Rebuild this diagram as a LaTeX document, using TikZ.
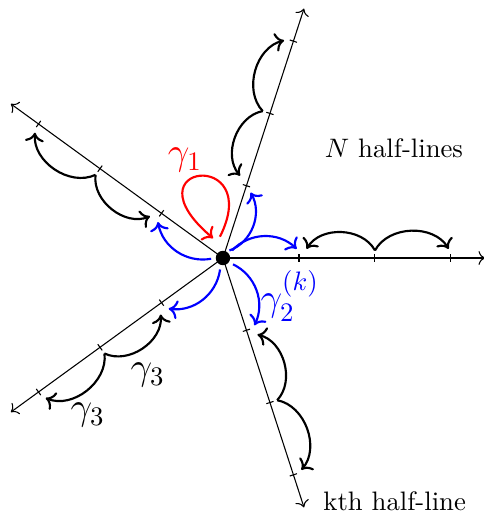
\documentclass[tikz,border=0pt]{standalone}
\usepackage{amsmath, amssymb}
\usetikzlibrary{arrows.meta, calc}

\begin{document}
\begin{tikzpicture}[
  jump/.style={thick, ->},
  loopb/.style={thick, blue, ->},
  dot/.style={circle, fill, inner sep=0pt, minimum size=0.19cm}]
\useasboundingbox (-2.934,-3.395) rectangle (3.434,3.395);
% half-lines with ticks and jumps along them
\foreach \a in {0,72,144,216,288} {
\begin{scope}[rotate=\a]
\coordinate (e) at (3.45,0);
\draw[->] (0,0) -- (e);
\foreach \t in {1,2,3} \draw (\t,-0.05) -- (\t,0.05);
\coordinate (m) at (2,0.1);
\coordinate (l) at (1.1,0.12);
\coordinate (r) at (2.97,0.12);
\draw[jump] (m) to[bend right=60] (l);
\draw[jump] (m) to[bend left=60] (r);
\end{scope}
}
% blue paths from the centre to the first tick
\foreach \a in {0,144,216,288} {
\begin{scope}[rotate=\a]
\draw[loopb] (0.12,0.1) to[bend left=45] (0.97,0.12);
\end{scope}
}
\begin{scope}[rotate=72]
\draw[loopb] (0.12,-0.05) to[bend right=50] (0.93,-0.08);
\end{scope}
% red loop at the centre
\draw[thick, red, ->] (-0.04,0.28) .. controls (0.55,1.45) and (-1.3,1.25) .. (-0.13,0.26);
\node[dot] (O) at (0,0) {};
% labels
\node[red] (g1) at (-0.5,1.29) {\Large $\gamma_1$};
\node (nh) at (2.25,1.45) {$N$ half-lines};
\node[blue] (g2) at (0.88,-0.5) {\Large $\gamma_2^{(k)}$};
\node (g3a) at (-0.99,-1.54) {\Large $\gamma_3$};
\node (g3b) at (-1.78,-2.07) {\Large $\gamma_3$};
\node (kh) at (2.26,-3.2) {kth half-line};
\end{tikzpicture}
\end{document}
